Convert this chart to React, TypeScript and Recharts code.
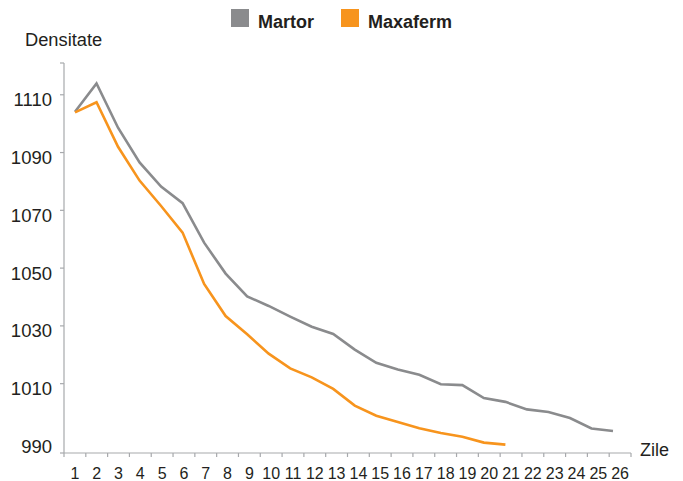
import { LineChart, Line, XAxis, YAxis, Legend } from "recharts"

const days = [1, 2, 3, 4, 5, 6, 7, 8, 9, 10, 11, 12, 13, 14, 15, 16, 17, 18, 19, 20, 21, 22, 23, 24, 25, 26]

const martor = [
  1104.1, 1113.9, 1098.6, 1086.6, 1078.2, 1072.5, 1058.8, 1048.1, 1040.2, 1036.9,
  1033.2, 1029.7, 1027.2, 1021.8, 1017.2, 1014.9, 1013.1, 1009.8, 1009.5, 1005.0,
  1003.7, 1001.1, 1000.2, 998.1, 994.5, 993.6,
]

const maxaferm = [
  1103.9, 1107.4, 1092.0, 1080.3, 1071.5, 1062.3, 1044.5, 1033.4, 1027.1, 1020.4,
  1015.3, 1012.2, 1008.2, 1002.4, 998.9, 996.7, 994.6, 992.9, 991.6, 989.6,
  988.9,
]

// 986 / 1121 are the ends of the axis (tick mark only), 990 is label only
const yDomain = [986, 1121]
const yTicks = [986, 990, 1010, 1030, 1050, 1070, 1090, 1110, 1121]

const data = days.map((d, i) => ({
  day: d,
  martor: martor[i],
  maxaferm: i < maxaferm.length ? maxaferm[i] : null,
}))

const W = 683
const H = 481
const M = { top: 63, right: 52, bottom: 0, left: 0 }
const Y_W = 64
const HALF_BAND = (W - M.right - Y_W) / days.length / 2

const FONT = "'Liberation Sans', Arial, Helvetica, sans-serif"
const AXIS = "#a7a9ac"
const TEXT = "#231f20"
const GREY = "#8a8b8d"
const ORANGE = "#f7941d"

function XTick({ x, y, payload, index }: any) {
  const last = index === days.length - 1
  return (
    <g>
      <line x1={x - HALF_BAND} x2={x - HALF_BAND} y1={y} y2={y + 4} stroke={AXIS} strokeWidth={1.2} />
      {last && <line x1={x + HALF_BAND} x2={x + HALF_BAND} y1={y} y2={y + 4} stroke={AXIS} strokeWidth={1.2} />}
      <text x={x} y={y + 26} textAnchor="middle" fill={TEXT} fontSize={16} fontFamily={FONT}>
        {payload.value}
      </text>
    </g>
  )
}

function YTick({ x, y, payload }: any) {
  const v = payload.value
  const isEnd = v === yDomain[0] || v === yDomain[1]
  return (
    <g>
      {v !== 990 && <line x1={x - 4} x2={x} y1={y} y2={y} stroke={AXIS} strokeWidth={1.2} />}
      {!isEnd && (
        <text x={x - 12} y={y + 11.5} textAnchor="end" fill={TEXT} fontSize={18.5} fontFamily={FONT}>
          {v}
        </text>
      )}
    </g>
  )
}

function LegendBox({ payload }: any) {
  return (
    <div style={{ display: "flex", justifyContent: "center", alignItems: "flex-start", fontFamily: FONT }}>
      {(payload || []).map((p: any, i: number) => (
        <div key={i} style={{ display: "flex", alignItems: "flex-start", marginLeft: i === 0 ? 0 : 27 }}>
          <div style={{ width: 18, height: 18, background: p.color }} />
          <span style={{ marginLeft: 9, marginTop: 4, fontSize: 18, lineHeight: "18px", fontWeight: "bold", color: TEXT }}>
            {p.value}
          </span>
        </div>
      ))}
    </div>
  )
}

export default function App() {
  return (
    <div style={{ position: "absolute", left: 0, top: 0, width: W, height: H, background: "#fff" }}>
      <LineChart width={W} height={H} data={data} margin={M}>
        <XAxis
          xAxisId="days"
          type="number"
          dataKey="day"
          domain={[0.5, 26.5]}
          allowDataOverflow
          ticks={days}
          interval={0}
          height={28}
          tickSize={0}
          tickMargin={0}
          tickLine={false}
          axisLine={{ stroke: AXIS, strokeWidth: 1.2 }}
          tick={<XTick />}
          label={{
            content: ({ viewBox }: any) => (
              <text x={viewBox.x + viewBox.width + 9} y={viewBox.y + 3} fill={TEXT} fontSize={18} fontFamily={FONT}>
                Zile
              </text>
            ),
          }}
        />
        <XAxis xAxisId="pos" type="number" dataKey="day" domain={[1, 26]} padding={{ left: 11, right: 18 }} hide />
        <YAxis
          type="number"
          domain={yDomain}
          allowDataOverflow
          ticks={yTicks}
          interval={0}
          width={Y_W}
          tickSize={0}
          tickMargin={0}
          tickLine={false}
          axisLine={{ stroke: AXIS, strokeWidth: 1.2 }}
          tick={<YTick />}
          label={{
            content: ({ viewBox }: any) => (
              <text x={viewBox.x + 25} y={viewBox.y - 17} fill={TEXT} fontSize={18.3} fontFamily={FONT}>
                Densitate
              </text>
            ),
          }}
        />
        <Legend verticalAlign="middle" layout="horizontal" wrapperStyle={{ top: 9, left: 0, width: W }} content={<LegendBox />} />
        <Line xAxisId="pos" type="linear" dataKey="martor" name="Martor" stroke={GREY} strokeWidth={2.6} dot={false} isAnimationActive={false} />
        <Line xAxisId="pos" type="linear" dataKey="maxaferm" name="Maxaferm" stroke={ORANGE} strokeWidth={2.6} dot={false} isAnimationActive={false} />
      </LineChart>
    </div>
  )
}
